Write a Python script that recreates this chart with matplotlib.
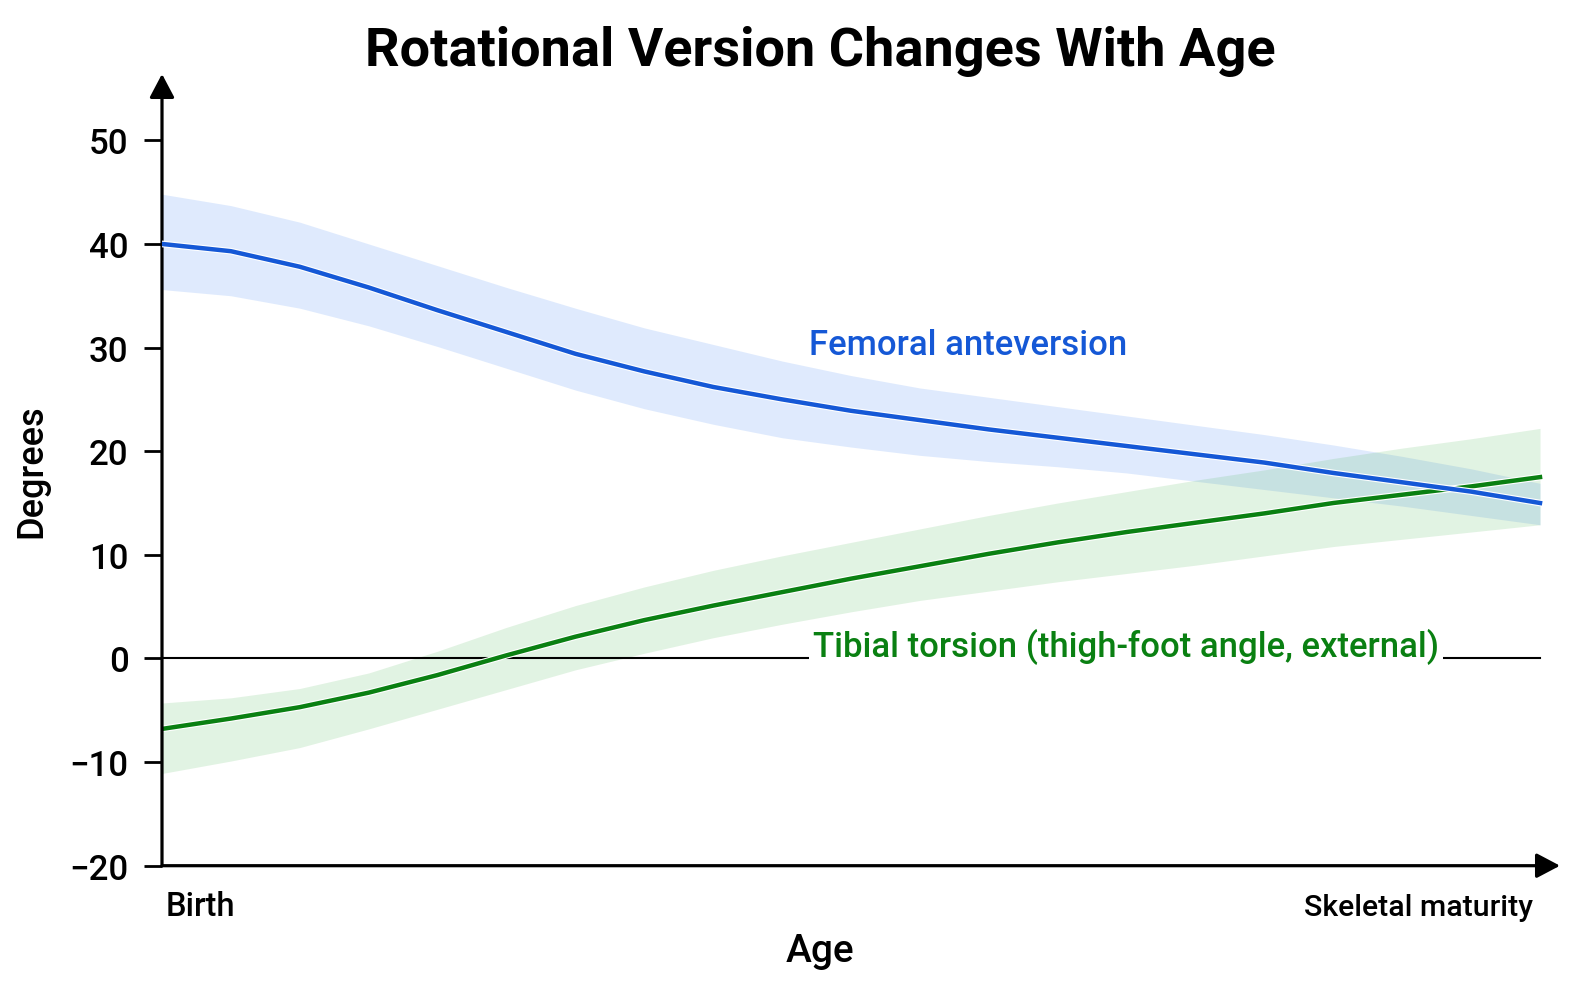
import matplotlib
matplotlib.use("Agg")
import matplotlib.pyplot as plt
import matplotlib.patheffects as pe

plt.rcParams['font.family'] = ['Roboto', 'DejaVu Sans']

# age runs from birth (0) to skeletal maturity (1), read every 5 %
age = [0.0, 0.05, 0.1, 0.15, 0.2, 0.25, 0.3, 0.35, 0.4, 0.45, 0.5,
       0.55, 0.6, 0.65, 0.7, 0.75, 0.8, 0.85, 0.9, 0.95, 1.0]

femoral = [40.0, 39.3, 37.8, 35.8, 33.6, 31.5, 29.4, 27.7, 26.2, 25.0, 23.9,
           23.0, 22.1, 21.3, 20.5, 19.7, 18.9, 17.9, 17.0, 16.1, 15.0]
femoral_hi = [44.8, 43.7, 42.1, 40.0, 37.9, 35.8, 33.8, 31.9, 30.3, 28.7, 27.3,
              26.1, 25.2, 24.3, 23.4, 22.5, 21.6, 20.6, 19.5, 18.3, 16.9]
femoral_lo = [35.6, 35.0, 33.8, 32.1, 30.1, 28.0, 25.9, 24.1, 22.6, 21.3, 20.4,
              19.6, 19.0, 18.5, 17.9, 17.1, 16.3, 15.5, 14.7, 13.8, 12.9]

tibial = [-6.8, -5.8, -4.7, -3.3, -1.6, 0.3, 2.1, 3.7, 5.1, 6.4, 7.7,
          8.9, 10.1, 11.2, 12.2, 13.1, 14.0, 15.0, 15.8, 16.6, 17.5]
tibial_hi = [-4.3, -3.8, -2.9, -1.4, 0.7, 3.0, 5.1, 6.9, 8.5, 9.9, 11.2,
             12.5, 13.8, 15.0, 16.1, 17.2, 18.2, 19.3, 20.3, 21.2, 22.2]
tibial_lo = [-11.1, -9.9, -8.6, -6.8, -4.9, -3.0, -1.1, 0.5, 2.0, 3.3, 4.5,
             5.6, 6.5, 7.4, 8.2, 9.0, 9.9, 10.8, 11.5, 12.2, 12.9]

yticks = [-20, -10, 0, 10, 20, 30, 40, 50]
ytick_labels = ['\u221220', '\u221210', '0', '10', '20', '30', '40', '50']

blue = '#1558d6'
green = '#0a8012'

fig = plt.figure(figsize=(15.81, 9.95), dpi=100)
ax = fig.add_axes([162/1581, 128.3/995, 1398/1581, 791.7/995])

ax.fill_between(age, femoral_lo, femoral_hi, color='#4f8ef7', alpha=0.18, lw=0)
ax.fill_between(age, tibial_lo, tibial_hi, color='#3cb043', alpha=0.15, lw=0)

ax.plot([0, 1], [0, 0], color='black', lw=1.5, zorder=2)

outline = [pe.Stroke(linewidth=4.8, foreground='white'), pe.Normal()]
ax.plot(age, tibial, color=green, lw=3.2, zorder=3, path_effects=outline)
ax.plot(age, femoral, color=blue, lw=3.2, zorder=4, path_effects=outline)

ax.text(0.4695, 29.4, 'Femoral anteversion', color=blue, fontsize=25,
        fontweight='medium', va='baseline', ha='left')
ax.text(0.4724, 0.2, 'Tibial torsion (thigh-foot angle, external)', color=green,
        fontsize=25, fontweight='medium', va='baseline', ha='left', zorder=5,
        bbox=dict(facecolor='white', edgecolor='none', pad=3))

ax.set_xlim(0, 1.0145)
ax.set_ylim(-20, 56.4)
ax.set_yticks(yticks)
ax.set_yticklabels(ytick_labels, fontsize=25, fontweight='medium')
ax.tick_params(axis='y', length=13, width=2, pad=11)
ax.set_xticks([])
for s in ax.spines.values():
    s.set_visible(False)

# axis lines with arrow heads
arrow = dict(arrowstyle='-|>,head_length=0.72,head_width=0.38', mutation_scale=20,
             lw=2.3, color='black', shrinkA=0, shrinkB=0)
ax.annotate('', xy=(0, 1), xytext=(0, 0), xycoords='axes fraction', arrowprops=arrow)
ax.annotate('', xy=(1, 0), xytext=(0, 0), xycoords='axes fraction', arrowprops=arrow)

fig.text(165.7/1581, 1 - 916/995, 'Birth', fontsize=23.5, fontweight='medium',
         ha='left', va='baseline')
fig.text(1533/1581, 1 - 916/995, 'Skeletal maturity', fontsize=21.8, fontweight='medium',
         ha='right', va='baseline')
fig.text(820/1581, 1 - 962/995, 'Age', fontsize=28, fontweight='medium',
         ha='center', va='baseline')
fig.text(32/1581, 1 - 471/995, 'Degrees', fontsize=26, fontweight='medium',
         rotation=90, ha='center', va='center')
fig.text(820/1581, 1 - 66/995, 'Rotational Version Changes With Age', fontsize=39,
         fontweight='bold', ha='center', va='baseline')

fig.savefig('out.png', dpi=100, facecolor='white')
